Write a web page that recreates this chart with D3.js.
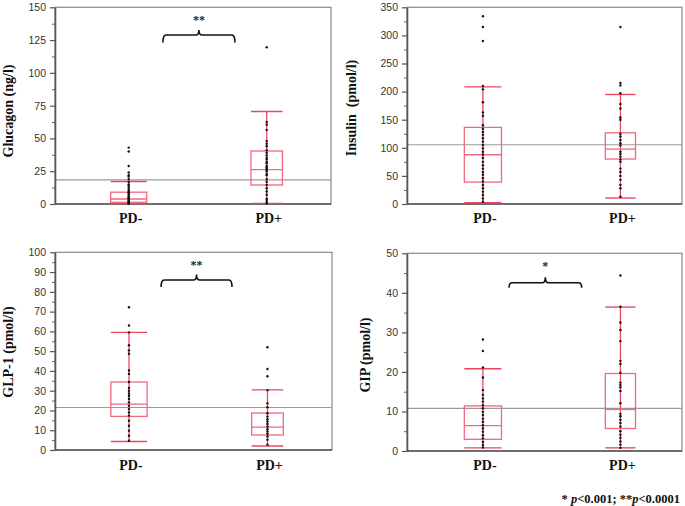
<!DOCTYPE html>
<html>
<head>
<meta charset="utf-8">
<script src="https://cdn.jsdelivr.net/npm/d3@7"></script>
<style>
  html, body { margin: 0; padding: 0; background: #fff; }
  svg { display: block; }
</style>
</head>
<body>
<script>
// ---------------- DATA ----------------
const groups = ["PD-", "PD+"];

// Glucagon (ng/l)
const glucagonTicks = [0, 25, 50, 75, 100, 125, 150];
const glucagonN = [47, 41];
// [lower whisker, Q1, median, Q3, upper whisker]
const glucagonStats = [[0.3, 1.3, 3.8, 9, 17.2], [0.5, 14.5, 26.2, 40.4, 70.5]];
const glucagonMean = 18.4;
const glucagonDotsMinus = [43, 40, 29, 24, 22, 21, 19, 17, 15, 14, 12.5, 11, 10, 9, 8, 7, 6, 5, 4.5, 4, 3, 2.5, 2, 1.5, 1, 0.5, 0.2];
const glucagonDotsPlus = [119.5, 62.5, 60.5, 56.5, 48, 46, 44, 41, 39, 37, 35, 34, 32, 31, 29, 28, 27, 26, 25, 23, 22, 19, 17, 14.5, 12, 9.5, 7, 4, 3, 1.5, 0.5];

// Insulin (pmol/l)
const insulinTicks = [0, 50, 100, 150, 200, 250, 300, 350];
const insulinN = [53, 43];
const insulinStats = [[2.4, 39, 87.6, 136.3, 208.4], [10.7, 80, 97.7, 126.7, 194.9]];
const insulinMean = 105.4;
const insulinDotsMinus = [334, 315, 290, 210, 204, 181, 163, 157, 140, 134, 128, 123, 117, 111, 105, 99, 93, 88, 82, 75, 69, 63, 57, 52, 46, 40, 34, 28, 22, 16, 10, 4];
const insulinDotsPlus = [315, 215.5, 211, 197, 178, 170, 154, 150, 125, 120, 114, 108, 104, 93, 89, 84, 79, 75, 63, 57, 50, 43, 34, 28, 13];

// GLP-1 (pmol/l)
const glp1Ticks = [0, 10, 20, 30, 40, 50, 60, 70, 80, 90, 100];
const glp1N = [47, 41];
const glp1Stats = [[4.3, 17, 23.2, 34.4, 59.5], [2, 7.6, 11.6, 18.7, 30.4]];
const glp1Mean = 21.5;
const glp1DotsMinus = [72.2, 63, 59.5, 53, 50.4, 48.7, 40.2, 38.5, 34.4, 31.4, 30, 28.6, 27.3, 25.8, 24.1, 22.4, 20.7, 19, 17.4, 14.8, 12.3, 9.8, 7.2, 4.7];
const glp1DotsPlus = [52, 41, 37.3, 30.3, 23.6, 21.6, 18.6, 16.9, 15.6, 14.4, 13.2, 11.9, 10.5, 9.4, 8.2, 6.9, 5.2, 2.7];

// GIP (pmol/l)
const gipTicks = [0, 10, 20, 30, 40, 50];
const gipN = [53, 43];
const gipStats = [[0.8, 2.95, 6.4, 11.4, 20.8], [0.8, 5.7, 10.5, 19.6, 36.4]];
const gipMean = 10.8;
const gipDotsMinus = [28.2, 25.3, 21.1, 18.6, 15.4, 14.2, 13.3, 12.5, 11.6, 10.8, 9.9, 9.1, 8.2, 7.4, 6.5, 5.7, 4.9, 4.0, 3.2, 2.3, 1.5, 0.9];
const gipDotsPlus = [44.4, 36.5, 32.5, 30.6, 27.8, 22.8, 22, 19.8, 17.3, 16.7, 16.1, 15.2, 12.1, 9.4, 8.8, 7.9, 7.1, 6.2, 5.0, 4.1, 3.3, 2.4, 1.6, 0.8];

const yTitles = ["Glucagon (ng/l)", "Insulin  (pmol/l)", "GLP-1 (pmol/l)", "GIP (pmol/l)"];
const sigLabels = ["**", null, "**", "*"];
const footnoteParts = [["* ", false], ["p", true], ["<0.001; **", false], ["p", true], ["<0.0001", false]];

// ---------------- LAYOUT ----------------
const panels = [
  { ticks: glucagonTicks, n: glucagonN, stats: glucagonStats, mean: glucagonMean, dots: [glucagonDotsMinus, glucagonDotsPlus],
    title: yTitles[0], sig: sigLabels[0], box: [55, 331, 7.3, 204], titleX: 12.5, titleY: 111, catY: 223,
    bracket: { f0: 0.391, f1: 0.652, y: 35, down: 7.5, up: 5, starY: 24 } },
  { ticks: insulinTicks, n: insulinN, stats: insulinStats, mean: insulinMean, dots: [insulinDotsMinus, insulinDotsPlus],
    title: yTitles[1], sig: sigLabels[1], box: [407, 682, 7.3, 204], titleX: 356, titleY: 108, catY: 223, bracket: null },
  { ticks: glp1Ticks, n: glp1N, stats: glp1Stats, mean: glp1Mean, dots: [glp1DotsMinus, glp1DotsPlus],
    title: yTitles[2], sig: sigLabels[2], box: [55, 332, 252.3, 450], titleX: 12.5, titleY: 352, catY: 469.5,
    bracket: { f0: 0.383, f1: 0.639, y: 280, down: 7, up: 5.5, starY: 269 } },
  { ticks: gipTicks, n: gipN, stats: gipStats, mean: gipMean, dots: [gipDotsMinus, gipDotsPlus],
    title: yTitles[3], sig: sigLabels[3], box: [407, 682, 253.3, 451], titleX: 370, titleY: 355, catY: 469.5,
    bracket: { f0: 0.371, f1: 0.635, y: 282.7, down: 5, up: 5.5, starY: 270 } }
];

const W = 685, H = 506;
const svg = d3.select("body").append("svg").attr("width", W).attr("height", H);

const boxStroke = "#f2687f";
const whiskerStroke = "#ec4762";
const serif = "'Liberation Serif', 'Times New Roman', 'DejaVu Serif', serif";
const sans = "'Liberation Sans', Arial, Helvetica, sans-serif";

panels.forEach(p => {
  const [L, R, T, B] = p.box;
  const maxV = p.ticks[p.ticks.length - 1];
  const step = p.ticks[1] - p.ticks[0];
  const y = d3.scaleLinear().domain([0, maxV]).range([B, T]);
  const x = d3.scaleLinear().domain([0, 1]).range([L, R]);
  const total = d3.sum(p.n);
  const shares = p.n.map(v => v / total);
  const cum = [0, shares[0]];
  const centers = shares.map((s, i) => x(cum[i] + s / 2));
  const halfW = shares.map(s => (x(s) - x(0)) * 0.245 / 2);

  const g = svg.append("g");

  // frame
  g.append("rect").attr("x", L).attr("y", T).attr("width", R - L).attr("height", B - T)
    .attr("fill", "none").attr("stroke", "#8a8a8a").attr("stroke-width", 1.2);

  // grand mean line
  g.append("line").attr("x1", L).attr("x2", R).attr("y1", y(p.mean)).attr("y2", y(p.mean))
    .attr("stroke", "#9a9a9a").attr("stroke-width", 1.2);

  // minor ticks
  const minor = d3.range(step / 2, maxV, step);
  g.append("g").attr("transform", `translate(${L},0)`)
    .call(d3.axisLeft(y).tickValues(minor).tickSize(3).tickFormat(""))
    .call(s => s.select(".domain").remove())
    .call(s => s.selectAll("line").attr("stroke", "#666"));

  // major axis
  const ax = g.append("g").attr("transform", `translate(${L},0)`)
    .call(d3.axisLeft(y).tickValues(p.ticks).tickSize(5).tickPadding(4).tickSizeOuter(0));
  ax.select(".domain").attr("stroke", "#555").attr("stroke-width", 1.6);
  ax.selectAll("line").attr("stroke", "#555").attr("stroke-width", 1.2);
  ax.selectAll("text").attr("font-family", sans).attr("font-size", 10.5).attr("fill", "#333");

  // bottom axis line
  g.append("line").attr("x1", L).attr("x2", R).attr("y1", B).attr("y2", B)
    .attr("stroke", "#555").attr("stroke-width", 1.6);

  // boxes
  p.stats.forEach((st, i) => {
    const cx = centers[i], hw = halfW[i];
    const [lo, q1, med, q3, hi] = st;
    g.append("line").attr("x1", cx).attr("x2", cx).attr("y1", y(lo)).attr("y2", y(hi))
      .attr("stroke", whiskerStroke).attr("stroke-width", 1.3);
    [lo, hi].forEach(v => g.append("line").attr("x1", cx - hw).attr("x2", cx + hw)
      .attr("y1", y(v)).attr("y2", y(v)).attr("stroke", whiskerStroke).attr("stroke-width", 1.4));
    g.append("rect").attr("x", cx - hw).attr("y", y(q3)).attr("width", 2 * hw).attr("height", y(q1) - y(q3))
      .attr("fill", "none").attr("stroke", boxStroke).attr("stroke-width", 1.3);
    g.append("line").attr("x1", cx - hw).attr("x2", cx + hw).attr("y1", y(med)).attr("y2", y(med))
      .attr("stroke", boxStroke).attr("stroke-width", 1.3);
  });

  // dots
  p.dots.forEach((arr, i) => {
    g.selectAll(null).data(arr).enter().append("circle")
      .attr("cx", centers[i]).attr("cy", d => y(d)).attr("r", 1.2).attr("fill", "#111");
  });

  // category labels
  groups.forEach((c, i) => {
    g.append("text").attr("x", centers[i] + 2).attr("y", p.catY).attr("text-anchor", "middle")
      .attr("font-family", serif).attr("font-weight", "bold").attr("font-size", 14).attr("fill", "#111").text(c);
  });

  // y title
  g.append("text").attr("transform", `translate(${p.titleX},${p.titleY}) rotate(-90)`)
    .attr("text-anchor", "middle").attr("font-family", serif).attr("font-weight", "bold")
    .attr("font-size", 14).attr("fill", "#111").attr("xml:space", "preserve").style("white-space", "pre").text(p.title);

  // significance bracket
  if (p.bracket) {
    const b = p.bracket;
    const x1 = x(b.f0), x2 = x(b.f1), xm = (x1 + x2) / 2, yh = b.y, r = 3;
    const path = `M${x1},${yh + b.down} Q${x1},${yh} ${x1 + r},${yh} L${xm - r},${yh} Q${xm},${yh} ${xm},${yh - b.up} Q${xm},${yh} ${xm + r},${yh} L${x2 - r},${yh} Q${x2},${yh} ${x2},${yh + b.down}`;
    g.append("path").attr("d", path).attr("fill", "none").attr("stroke", "#111").attr("stroke-width", 1.6);
    g.append("text").attr("x", xm).attr("y", b.starY).attr("text-anchor", "middle")
      .attr("font-family", serif).attr("font-weight", "bold").attr("font-size", 12).attr("fill", "#222").text(p.sig);
  }
});

// footnote
const fn = svg.append("text").attr("x", 680).attr("y", 503).attr("text-anchor", "end")
  .attr("font-family", serif).attr("font-weight", "bold").attr("font-size", 12.5).attr("fill", "#111")
  .attr("xml:space", "preserve").style("white-space", "pre");
footnoteParts.forEach(([t, it]) => fn.append("tspan").attr("font-style", it ? "italic" : "normal").text(t));
</script>
</body>
</html>
